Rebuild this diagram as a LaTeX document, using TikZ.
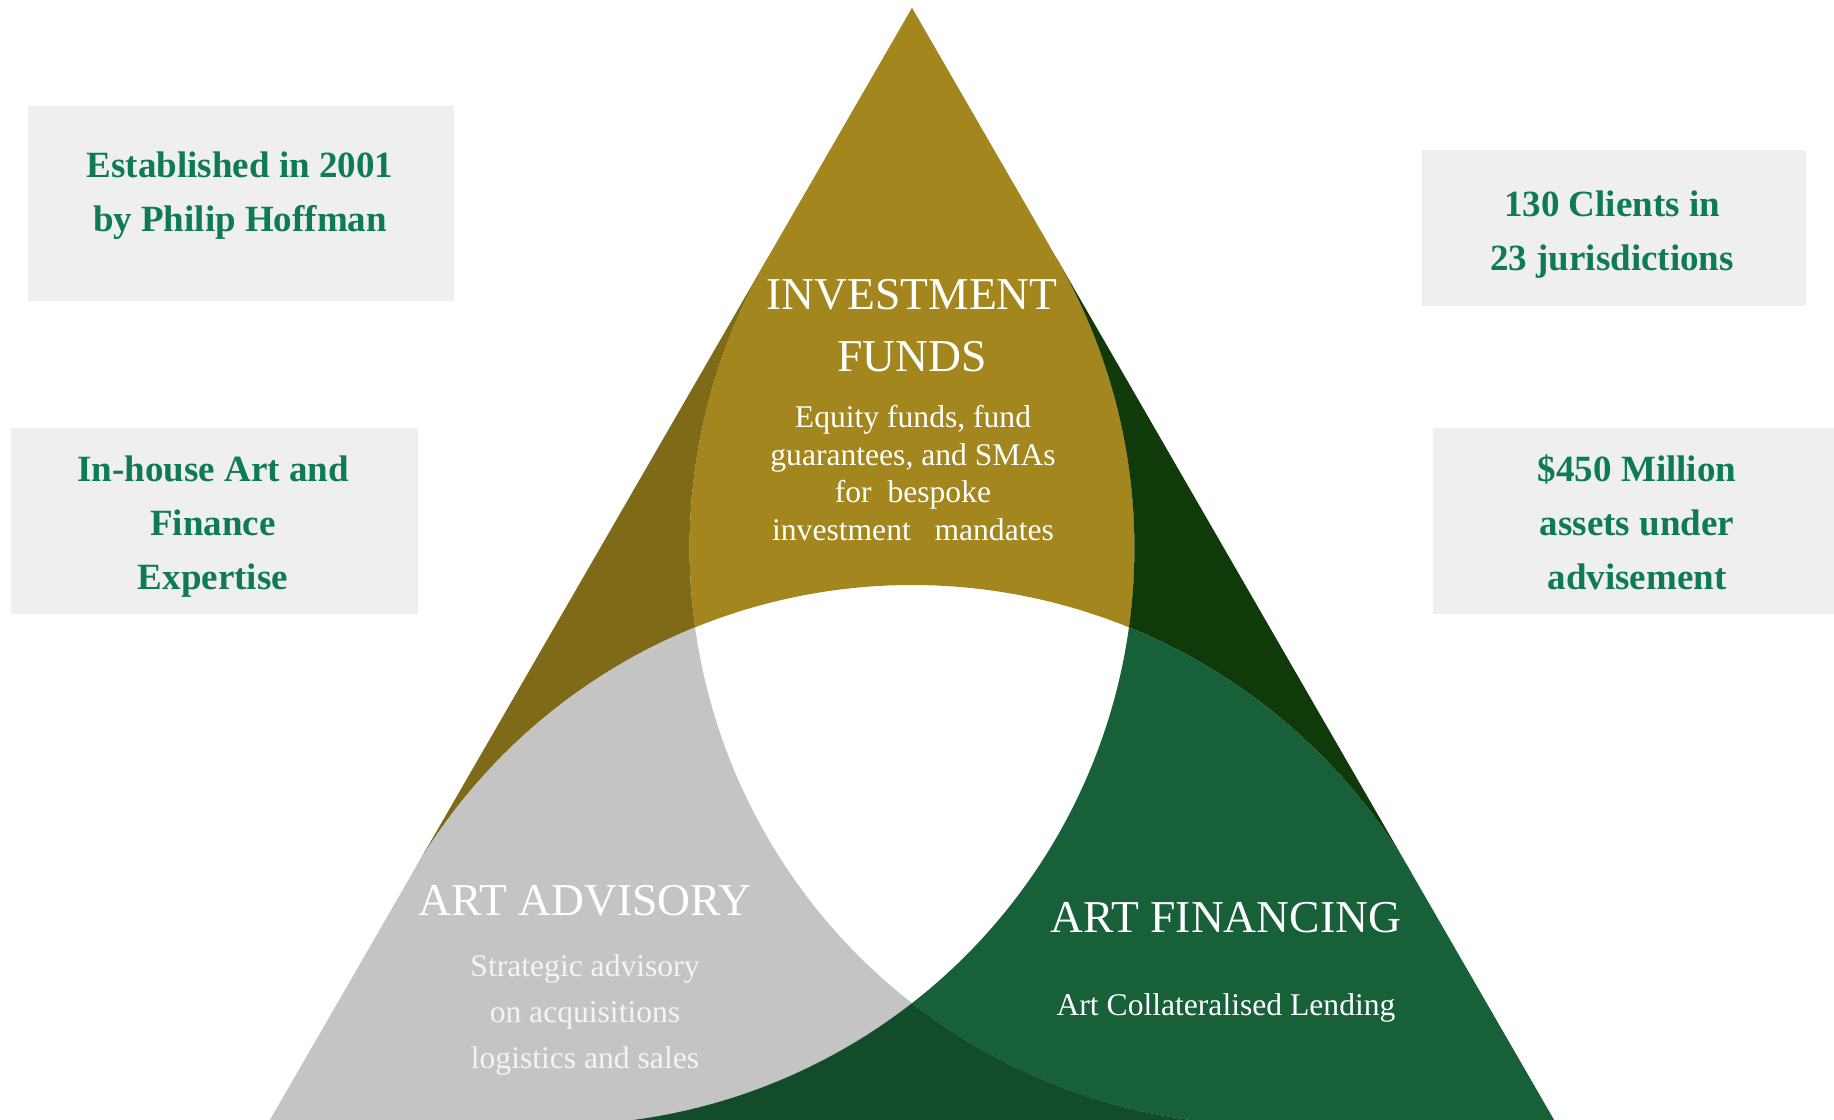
\documentclass[tikz,border=0pt]{standalone}
\usepackage{fontspec}
\setmainfont{Liberation Serif}
\usepackage{tikz}
\usetikzlibrary{calc}
\usetikzlibrary{positioning}
\definecolor{gold}{HTML}{A4861E}
\definecolor{darkgold}{HTML}{7F6A18}
\definecolor{pine}{HTML}{103A0A}
\definecolor{artgray}{HTML}{C4C4C4}
\definecolor{fingreen}{HTML}{17603A}
\definecolor{basegreen}{HTML}{134C2B}
\definecolor{boxgray}{HTML}{EFEFEF}
\definecolor{boxtext}{HTML}{0E7A56}
\definecolor{mist}{HTML}{F4F4F4}
\newcommand{\rr}{577.2}
\tikzset{infobox/.style={rectangle,fill=boxgray,inner sep=0pt}}
\tikzset{infotext/.style={text=boxtext,align=center,font=\fontsize{18.5}{27}\selectfont\bfseries}}
\tikzset{headtext/.style={text=white,align=center,font=\fontsize{22.8}{31}\selectfont}}
\tikzset{subtext/.style={text=white,align=center,font=\fontsize{15.8}{18.8}\selectfont}}

\begin{document}
\begin{tikzpicture}[x=0.5pt,y=0.5pt]
\fill[white] (0,0) rectangle (1834,1119);
\useasboundingbox (0,0) rectangle (1834,1119);

\coordinate (A) at (912,1111.2);
\coordinate (BL) at (267,-6);
\coordinate (BR) at (1557,-6);
\coordinate (tRL) at (766.88,859.8);
\coordinate (tBL) at (412.13,245.36);
\coordinate (tLR) at (1057.12,859.8);
\coordinate (tBR) at (1411.87,245.36);
\coordinate (tLB) at (557.25,-6);

\begin{scope}
\clip (0,0) rectangle (1834,1119);
\fill[gold] (A) -- (tRL) arc[start angle=150,end angle=187.92,radius=\rr]
  arc[start angle=112.08,end angle=67.92,radius=\rr]
  arc[start angle=-7.92,end angle=30,radius=\rr] -- cycle;
\fill[darkgold] (tRL) -- (tBL) arc[start angle=150,end angle=112.08,radius=\rr]
  arc[start angle=187.92,end angle=150,radius=\rr] -- cycle;
\fill[pine] (tLR) arc[start angle=30,end angle=-7.92,radius=\rr]
  arc[start angle=67.92,end angle=30,radius=\rr] -- cycle;
\fill[artgray] (BL) -- (tBL) arc[start angle=150,end angle=112.08,radius=\rr]
  arc[start angle=187.92,end angle=232.08,radius=\rr]
  arc[start angle=-52.08,end angle=-90,radius=\rr] -- cycle;
\fill[fingreen] (BR) -- (tBR) arc[start angle=30,end angle=67.92,radius=\rr]
  arc[start angle=-7.92,end angle=-52.08,radius=\rr]
  arc[start angle=232.08,end angle=270,radius=\rr] -- cycle;
\fill[basegreen] (tLB) arc[start angle=270,end angle=307.92,radius=\rr]
  arc[start angle=232.08,end angle=270,radius=\rr] -- cycle;
\end{scope}

\node[headtext] (fund) at (912,793) {INVESTMENT\\FUNDS};
\node[subtext] (fundtxt) at (913,646) {Equity funds, fund\\guarantees, and SMAs\\for\ \ bespoke\\investment\ \ \ mandates};
\node[headtext] (adv) at (585,218) {ART ADVISORY};
\node[subtext,text=mist,font=\fontsize{15.8}{22.8}\selectfont] (advtxt) at (585,104) {Strategic advisory\\on acquisitions\\logistics and sales};
\node[headtext] (fin) at (1226,201) {ART FINANCING};
\node[subtext] (fintxt) at (1226,111) {Art Collateralised Lending};

\node[infobox,minimum width=213pt,minimum height=97.5pt] (b1) at (241,915.5) {};
\node[infotext] (e1) at (240,923) {Established in 2001\\by Philip Hoffman};
\node[infobox,minimum width=203.5pt,minimum height=93pt] (b2) at (214.5,598) {};
\node[infotext] (e2) at (213,592) {In-house Art and\\Finance\\Expertise};
\node[infobox,minimum width=192pt,minimum height=78pt] (b3) at (1614,891) {};
\node[infotext] (e3) at (1612,884) {130 Clients in\\23 jurisdictions};
\node[infobox,minimum width=200.5pt,minimum height=93pt] (b4) at (1633.5,598) {};
\node[infotext] (e4) at (1637,597) {\$450 Million\\assets under\\advisement};
\end{tikzpicture}
\end{document}
